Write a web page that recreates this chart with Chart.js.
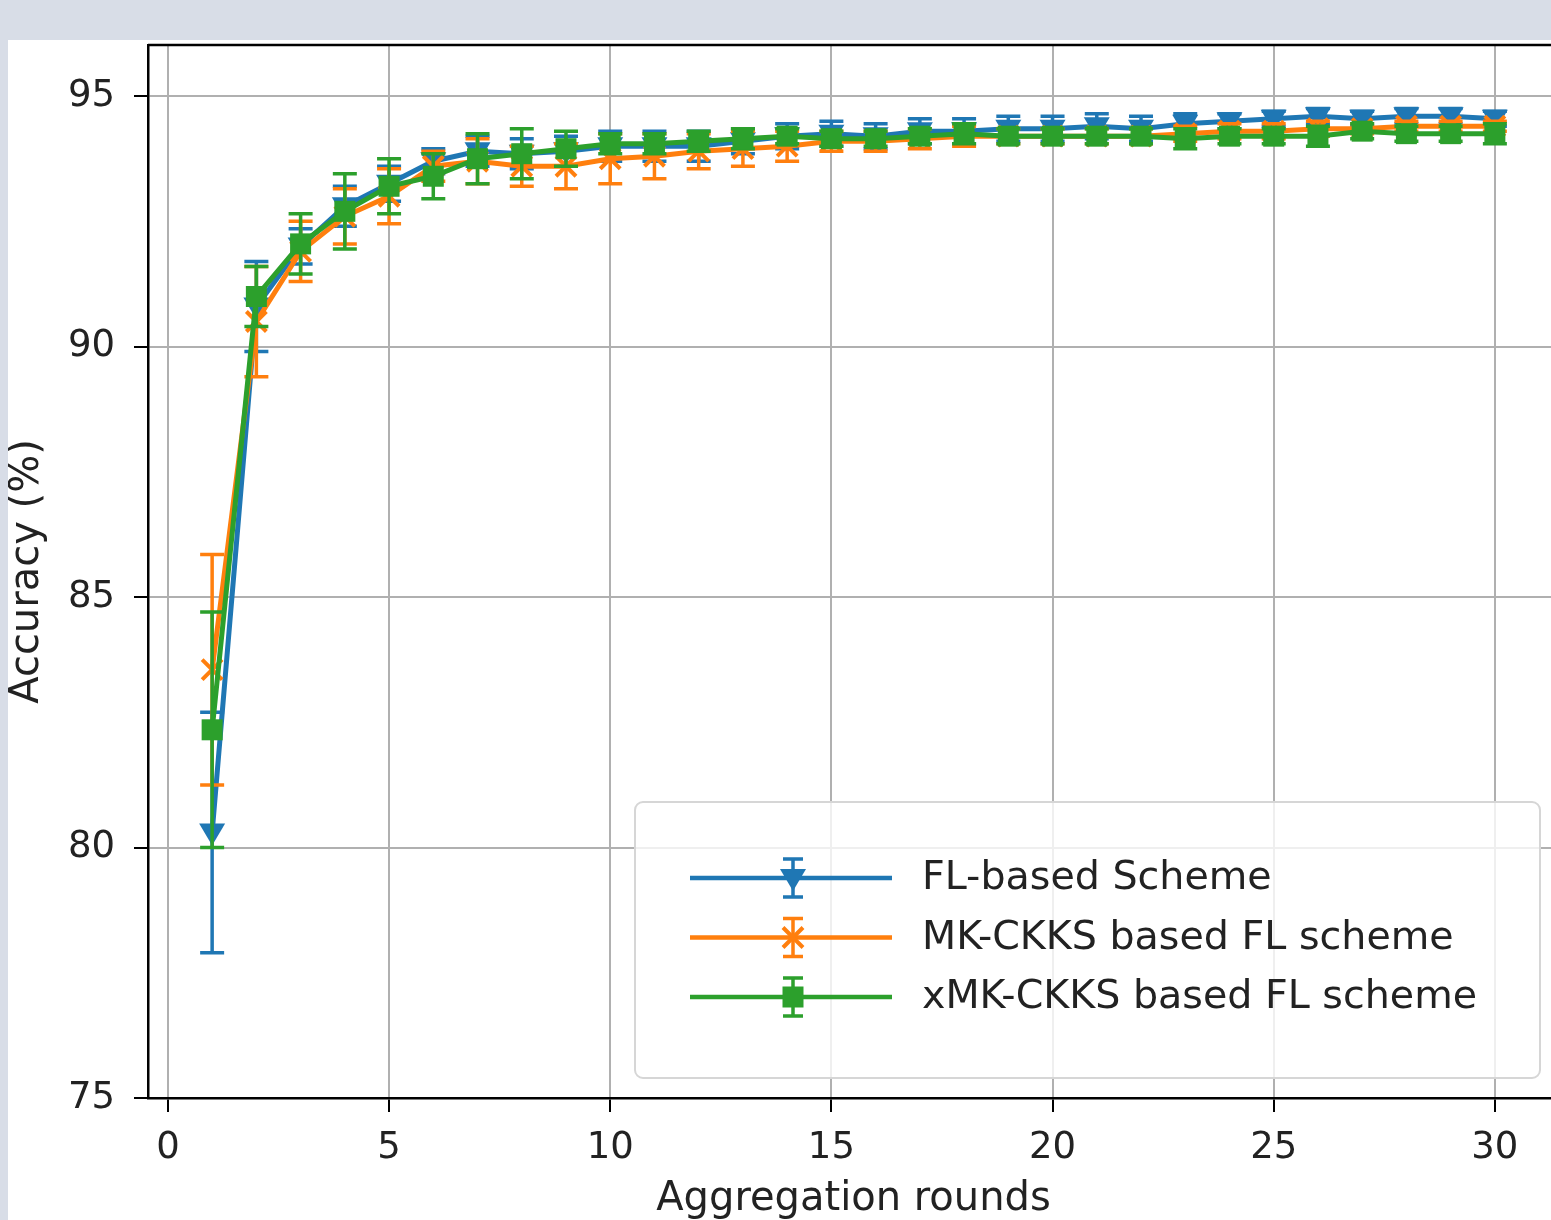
<!DOCTYPE html>
<html>
<head>
<meta charset="utf-8">
<script src="https://cdn.jsdelivr.net/npm/chart.js@4/dist/chart.umd.min.js"></script>
<style>
  html, body { margin: 0; padding: 0; background: #d8dde7; overflow: hidden; width: 1551px; height: 1220px; }
  #wrap { position: absolute; left: 8px; top: 40px; width: 1600px; height: 1180px; background: #fff; }
  canvas { display: block; }
</style>
</head>
<body>
<div id="wrap"><canvas id="accChart" width="1600" height="1180"></canvas></div>
<script>
// data
const rounds = [1,2,3,4,5,6,7,8,9,10,11,12,13,14,15,16,17,18,19,20,21,22,23,24,25,26,27,28,29,30];

const flAcc = [80.3, 90.8, 92.0, 92.8, 93.25, 93.7, 93.9, 93.85, 93.9, 94.0,
               94.0, 94.0, 94.1, 94.2, 94.25, 94.2, 94.3, 94.3, 94.35, 94.35,
               94.4, 94.35, 94.45, 94.5, 94.55, 94.6, 94.55, 94.6, 94.6, 94.55];
const flErr = [2.4, 0.9, 0.35, 0.4, 0.35, 0.25, 0.3, 0.3, 0.3, 0.3,
               0.3, 0.3, 0.25, 0.25, 0.25, 0.25, 0.25, 0.25, 0.25, 0.25,
               0.25, 0.25, 0.2, 0.15, 0.15, 0.15, 0.15, 0.15, 0.15, 0.15];

const mkAcc = [83.55, 90.5, 91.9, 92.6, 93.0, 93.6, 93.7, 93.6, 93.6, 93.75,
               93.8, 93.9, 93.95, 94.0, 94.1, 94.1, 94.15, 94.2, 94.2, 94.2,
               94.2, 94.2, 94.25, 94.3, 94.3, 94.35, 94.35, 94.4, 94.4, 94.4];
const mkErr = [2.3, 1.1, 0.6, 0.55, 0.55, 0.3, 0.45, 0.4, 0.45, 0.5,
               0.45, 0.35, 0.35, 0.3, 0.2, 0.2, 0.2, 0.2, 0.15, 0.15,
               0.15, 0.15, 0.15, 0.15, 0.15, 0.15, 0.1, 0.1, 0.1, 0.1];

const xmkAcc = [82.35, 91.0, 92.05, 92.7, 93.2, 93.4, 93.75, 93.85, 93.95, 94.05,
                94.05, 94.1, 94.15, 94.2, 94.15, 94.15, 94.2, 94.25, 94.2, 94.2,
                94.2, 94.2, 94.15, 94.2, 94.2, 94.2, 94.3, 94.25, 94.25, 94.25];
const xmkErr = [2.35, 0.6, 0.6, 0.75, 0.55, 0.45, 0.5, 0.5, 0.35, 0.2,
                0.2, 0.2, 0.2, 0.15, 0.15, 0.15, 0.15, 0.2, 0.15, 0.15,
                0.15, 0.15, 0.2, 0.15, 0.15, 0.2, 0.15, 0.15, 0.15, 0.2];

const seriesLabels = ['FL-based Scheme', 'MK-CKKS based FL scheme', 'xMK-CKKS based FL scheme'];
const xTicks = [0, 5, 10, 15, 20, 25, 30];
const yTicks = [75, 80, 85, 90, 95];

const BLUE = '#1f77b4', ORANGE = '#ff7f0e', GREEN = '#2ca02c';
const FONT = '"DejaVu Sans", sans-serif';
const TXT = '#222';

function pts(vals) { return rounds.map((r, i) => ({ x: r, y: vals[i] })); }

function drawMarker(ctx, style, x, y, color) {
    ctx.save();
    ctx.fillStyle = color;
    ctx.strokeStyle = color;
    ctx.beginPath();
    if (style === 'tri') {
        ctx.moveTo(x - 13, y - 9);
        ctx.lineTo(x + 13, y - 9);
        ctx.lineTo(x, y + 13);
        ctx.closePath();
        ctx.fill();
    } else if (style === 'x') {
        ctx.lineWidth = 4;
        ctx.moveTo(x - 10, y - 10); ctx.lineTo(x + 10, y + 10);
        ctx.moveTo(x + 10, y - 10); ctx.lineTo(x - 10, y + 10);
        ctx.stroke();
    } else {
        ctx.rect(x - 10.5, y - 10.5, 21, 21);
        ctx.fill();
    }
    ctx.restore();
}

const markerStyles = ['tri', 'x', 'sq'];

// error bars drawn just before each dataset, so later series sit on top
const errorBars = {
    id: 'errorBars',
    beforeDatasetDraw(chart, args) {
        const ds = chart.data.datasets[args.index];
        const xs = chart.scales.x, ys = chart.scales.y;
        const ctx = chart.ctx;
        ctx.save();
        ctx.strokeStyle = ds.borderColor;
        ctx.lineWidth = 3.5;
        ds.errors.forEach((e, i) => {
            const px = xs.getPixelForValue(ds.data[i].x);
            const top = ys.getPixelForValue(ds.data[i].y + e);
            const bot = ys.getPixelForValue(ds.data[i].y - e);
            ctx.beginPath();
            ctx.moveTo(px, top); ctx.lineTo(px, bot);
            ctx.moveTo(px - 12, top); ctx.lineTo(px + 12, top);
            ctx.moveTo(px - 12, bot); ctx.lineTo(px + 12, bot);
            ctx.stroke();
        });
        ctx.restore();
    },
    afterDatasetDraw(chart, args) {
        const ds = chart.data.datasets[args.index];
        const xs = chart.scales.x, ys = chart.scales.y;
        ds.data.forEach(p => {
            drawMarker(chart.ctx, ds.marker, xs.getPixelForValue(p.x), ys.getPixelForValue(p.y), ds.borderColor);
        });
    }
};

const frameAndLegend = {
    id: 'frameAndLegend',
    afterDraw(chart) {
        const ctx = chart.ctx, a = chart.chartArea;
        ctx.save();
        ctx.strokeStyle = '#000';
        ctx.lineWidth = 2.5;
        ctx.beginPath();
        ctx.moveTo(a.left, a.top); ctx.lineTo(a.right, a.top);
        ctx.stroke();

        // legend box, lower right
        const bw = 905, bh = 276;
        const bx = a.right - 19 - bw, by = a.bottom - 20 - bh;
        ctx.beginPath();
        ctx.roundRect(bx, by, bw, bh, 8);
        ctx.fillStyle = 'rgba(255,255,255,0.8)';
        ctx.fill();
        ctx.strokeStyle = '#d6d6d6';
        ctx.lineWidth = 2;
        ctx.stroke();

        ctx.font = '39.6px ' + FONT;
        ctx.textBaseline = 'middle';
        ctx.textAlign = 'left';
        chart.data.datasets.forEach((ds, i) => {
            const y = by + 76 + i * 59.5;
            const x0 = bx + 55, x1 = bx + 257, xm = bx + 158;
            ctx.strokeStyle = ds.borderColor;
            ctx.lineWidth = 4.5;
            ctx.beginPath();
            ctx.moveTo(x0, y); ctx.lineTo(x1, y);
            ctx.stroke();
            ctx.lineWidth = 3.5;
            ctx.beginPath();
            ctx.moveTo(xm, y - 19); ctx.lineTo(xm, y + 19);
            ctx.moveTo(xm - 10, y - 19); ctx.lineTo(xm + 10, y - 19);
            ctx.moveTo(xm - 10, y + 19); ctx.lineTo(xm + 10, y + 19);
            ctx.stroke();
            drawMarker(ctx, ds.marker, xm, y, ds.borderColor);
            ctx.fillStyle = TXT;
            ctx.fillText(ds.label, bx + 287, y + 1);
        });
        ctx.restore();
    }
};

const colors = [BLUE, ORANGE, GREEN];
const values = [flAcc, mkAcc, xmkAcc];
const errs = [flErr, mkErr, xmkErr];

const ctx = document.getElementById('accChart').getContext('2d');

new Chart(ctx, {
    type: 'line',
    data: {
        datasets: values.map((v, i) => ({
            label: seriesLabels[i],
            data: pts(v),
            errors: errs[i],
            marker: markerStyles[i],
            borderColor: colors[i],
            backgroundColor: colors[i],
            borderWidth: 5,
            pointRadius: 0,
            tension: 0,
            order: 2 - i
        }))
    },
    options: {
        responsive: false,
        animation: false,
        devicePixelRatio: 1,
        layout: { padding: { left: 0, top: 5, right: 49, bottom: 0 } },
        plugins: { legend: { display: false }, tooltip: { enabled: false } },
        scales: {
            x: {
                type: 'linear',
                min: -0.45,
                max: 31.45,
                afterBuildTicks: s => { s.ticks = xTicks.map(v => ({ value: v })); },
                afterFit: s => { s.height = 122; s.paddingLeft = 0; s.paddingRight = 0; },
                grid: { color: '#b0b0b0', lineWidth: 2, tickLength: 14, tickColor: '#000', tickWidth: 2 },
                border: { color: '#000', width: 2.5 },
                ticks: { font: { family: FONT, size: 37 }, color: TXT, padding: 14, maxRotation: 0 },
                title: { display: true, text: 'Aggregation rounds', font: { family: FONT, size: 40, lineHeight: 1 }, color: TXT, padding: 0 }
            },
            y: {
                min: 75,
                max: 96.02,
                afterBuildTicks: s => { s.ticks = yTicks.map(v => ({ value: v })); },
                afterFit: s => { s.width = 140; s.paddingTop = 0; s.paddingBottom = 0; },
                grid: { color: '#b0b0b0', lineWidth: 2, tickLength: 14, tickColor: '#000', tickWidth: 2 },
                border: { color: '#000', width: 2.5 },
                ticks: { font: { family: FONT, size: 37 }, color: TXT, padding: 19 },
                title: { display: true, text: 'Accuracy (%)', font: { family: FONT, size: 40, lineHeight: 1 }, color: TXT, padding: { top: 0, bottom: 0 } }
            }
        }
    },
    plugins: [errorBars, frameAndLegend]
});
</script>
</body>
</html>
